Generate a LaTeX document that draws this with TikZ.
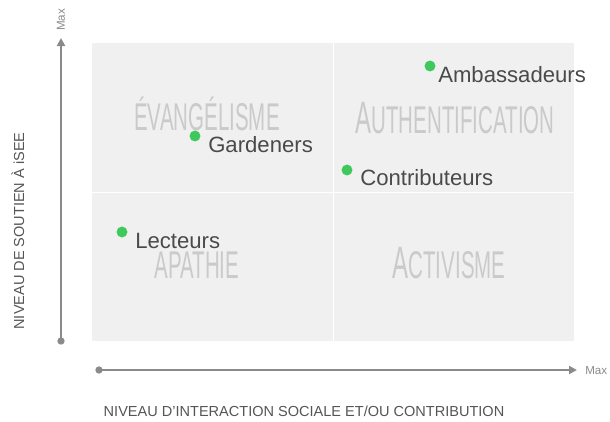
\documentclass[tikz,border=0pt]{standalone}
\usepackage{fontspec}
\setmainfont{Liberation Sans}
\newfontfamily\quadfont[FakeStretch=0.53]{Liberation Sans}
\usepackage{tikz}
\usetikzlibrary{arrows.meta,positioning,calc}
\definecolor{boxgray}{HTML}{F0F0F0}
\definecolor{axisgray}{HTML}{8A8A8A}
\definecolor{dotgreen}{HTML}{3DC95B}
\definecolor{lblgray}{HTML}{4A4A4A}
\definecolor{quadgray}{HTML}{CACACA}
\definecolor{axtext}{HTML}{555555}

\begin{document}
\begin{tikzpicture}[x=0.75pt,y=-0.75pt,
	axis/.style={draw=axisgray,line width=1.5pt,-{Triangle[length=6pt,width=6pt]}},
	axdot/.style={circle,fill=axisgray,inner sep=0pt,minimum size=5.5pt},
	dot/.style={circle,fill=dotgreen,inner sep=0pt,minimum size=8.2pt},
	lbl/.style={anchor=base west,inner sep=0pt,text=lblgray,font=\fontsize{16.6}{19}\selectfont},
	quad/.style={anchor=base,inner sep=0pt,text=quadgray,font=\quadfont\fontsize{29}{30}\selectfont},
	axlbl/.style={inner sep=0pt,text=axtext,font=\fontsize{10.9}{12}\selectfont},
	maxlbl/.style={inner sep=0pt,text=axisgray,font=\fontsize{8.7}{10}\selectfont}]
	\useasboundingbox (0,0) rectangle (610,421);

	% quadrants
	\fill[boxgray] (92,43) rectangle (574,341);
	\draw[white,line width=0.75pt] (333,43) -- (333,341) (92,192) -- (574,192);

	\node[quad] (evang) at (207,130) {ÉVANGÉLISME};
	\node[quad] (authent) at (455,133) {{\fontsize{34}{34}\selectfont A}UTHENTIFICATION};
	\node[quad] (apathie) at (197,278) {APATHIE};
	\node[quad] (activ) at (449,278) {{\fontsize{34}{34}\selectfont A}CTIVISME};

	% axes
	\node[axdot] (yorig) at (61,341) {};
	\coordinate (ymax) at (61,38);
	\node[maxlbl,rotate=90] (ymaxlbl) at (61,20) {Max};
	\node[axdot] (xorig) at (99,370) {};
	\coordinate (xmax) at (577,370);
	\node[maxlbl,anchor=west] (xmaxlbl) at (585,371) {Max};

	\draw[axis] (yorig.center) -- (ymax);
	\draw[axis] (xorig.center) -- (xmax);

	\node[axlbl,rotate=90] (ylbl) at (18,231) {NIVEAU DE SOUTIEN À iSEE};
	\node[axlbl] (xlbl) at (304,411) {NIVEAU D'INTERACTION SOCIALE ET/OU CONTRIBUTION};

	% profils
	\node[dot] (amb) at (430,66) {};
	\node[lbl] (tamb) at ($(amb)+(8,16)$) {Ambassadeurs};
	\node[dot] (contrib) at (347,170) {};
	\node[lbl] (tcontrib) at ($(contrib)+(13,15)$) {Contributeurs};
	\node[dot] (garden) at (195,136) {};
	\node[lbl] (tgarden) at ($(garden)+(13,16)$) {Gardeners};
	\node[dot] (lect) at (122,232) {};
	\node[lbl] (tlect) at ($(lect)+(13,16)$) {Lecteurs};
\end{tikzpicture}
\end{document}
